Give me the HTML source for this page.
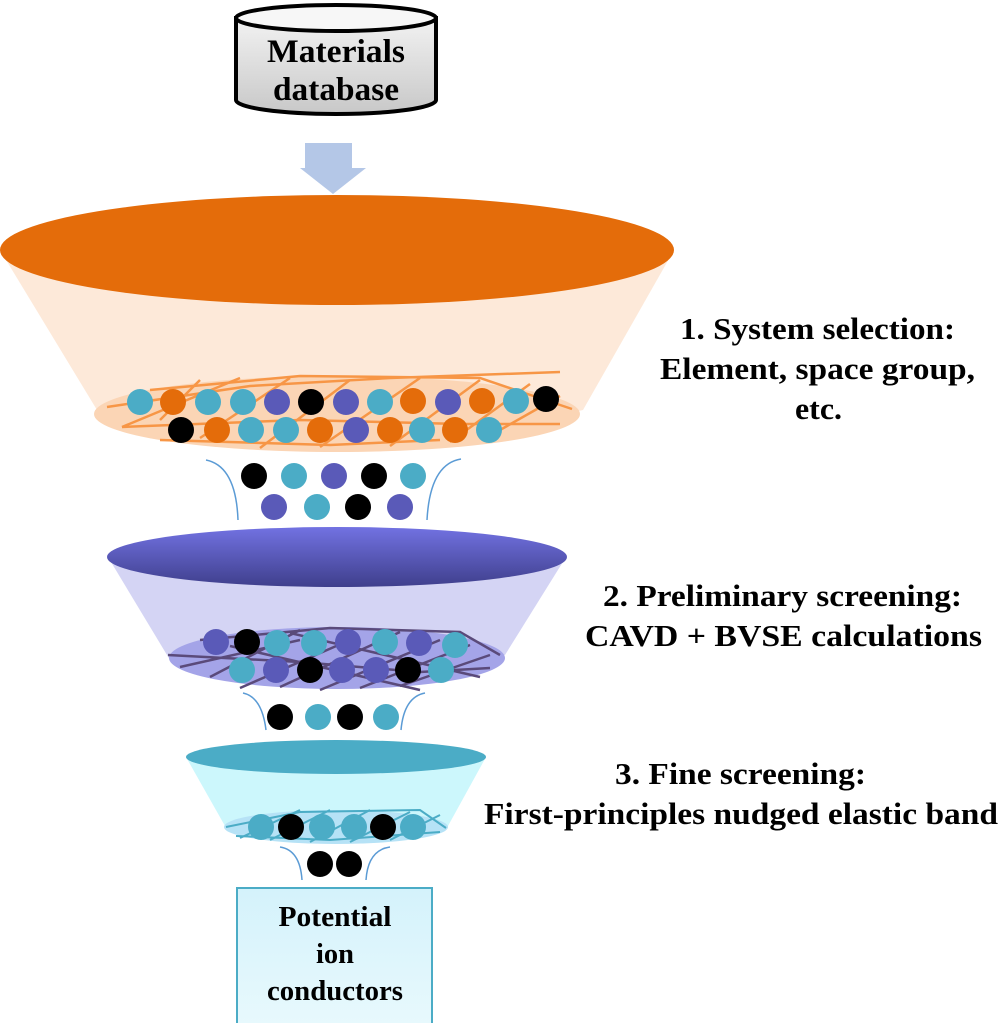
<!DOCTYPE html>
<html><head><meta charset="utf-8"><style>
html,body{margin:0;padding:0;background:#fff;}
svg{display:block;}
svg text{font-family:"Liberation Serif","Times New Roman",serif;font-weight:bold;fill:#000;}
</style></head><body>
<svg width="1000" height="1023" viewBox="0 0 1000 1023" xmlns="http://www.w3.org/2000/svg" font-family="Liberation Serif, serif">
<defs>
<linearGradient id="cyl" x1="0" y1="0" x2="0" y2="1"><stop offset="0" stop-color="#f2f2f2"/><stop offset="1" stop-color="#c8c8c8"/></linearGradient>
<linearGradient id="pt" x1="0" y1="0" x2="0" y2="1"><stop offset="0" stop-color="#7272e2"/><stop offset="1" stop-color="#3f3f8c"/></linearGradient>
<linearGradient id="box" x1="0" y1="0" x2="0" y2="1"><stop offset="0" stop-color="#d4f2fb"/><stop offset="1" stop-color="#e8f9fd"/></linearGradient>
</defs>

<path d="M236,18 L236,100 A100,14 0 0 0 436,100 L436,18 Z" fill="url(#cyl)" stroke="#000" stroke-width="4"/>
<ellipse cx="336" cy="18" rx="100" ry="13" fill="#f7f7f7" stroke="#000" stroke-width="4"/>
<text x="336" y="62" font-size="33" text-anchor="middle" textLength="138" lengthAdjust="spacingAndGlyphs">Materials</text>
<text x="336" y="100" font-size="33" text-anchor="middle" textLength="126" lengthAdjust="spacingAndGlyphs">database</text>

<polygon points="305,143 352,143 352,168 366,168 333,194 300,168 305,168" fill="#b4c7e7"/>

<path d="M0,250 L674,250 L583,410 Q337,470 97,410 Z" fill="#fde9d9"/>
<ellipse cx="337" cy="414" rx="243" ry="38" fill="#fbd5b5"/>
<ellipse cx="337" cy="250" rx="337" ry="55" fill="#e46c0a"/>
<g stroke="#f79646" stroke-width="2.5" fill="none">
<path d="M107,407 L250,386 L390,378 L560,372"/>
<path d="M150,390 L300,376 L480,378 L572,409"/>
<path d="M122,427 L300,420 L460,424 L560,424"/>
<path d="M160,440 L330,445 L440,440"/>
<path d="M122,427 L240,378 M200,438 L290,378 M260,448 L350,380 M320,447 L420,378 M390,446 L480,380 M450,442 L530,384 M500,430 L560,396"/>
<path d="M160,420 L200,380"/>
</g>
<g>
<circle cx="140" cy="402" r="13" fill="#4bacc6"/><circle cx="173" cy="402" r="13" fill="#e46c0a"/><circle cx="208" cy="402" r="13" fill="#4bacc6"/><circle cx="243" cy="402" r="13" fill="#4bacc6"/><circle cx="277" cy="402" r="13" fill="#5a5ab8"/><circle cx="311" cy="402" r="13" fill="#000"/><circle cx="346" cy="402" r="13" fill="#5a5ab8"/><circle cx="380" cy="402" r="13" fill="#4bacc6"/><circle cx="413" cy="401" r="13" fill="#e46c0a"/><circle cx="448" cy="402" r="13" fill="#5a5ab8"/><circle cx="482" cy="401" r="13" fill="#e46c0a"/><circle cx="516" cy="401" r="13" fill="#4bacc6"/><circle cx="546" cy="399" r="13" fill="#000"/>
<circle cx="181" cy="430" r="13" fill="#000"/><circle cx="217" cy="430" r="13" fill="#e46c0a"/><circle cx="251" cy="430" r="13" fill="#4bacc6"/><circle cx="286" cy="430" r="13" fill="#4bacc6"/><circle cx="320" cy="430" r="13" fill="#e46c0a"/><circle cx="356" cy="430" r="13" fill="#5a5ab8"/><circle cx="390" cy="430" r="13" fill="#e46c0a"/><circle cx="422" cy="430" r="13" fill="#4bacc6"/><circle cx="455" cy="430" r="13" fill="#e46c0a"/><circle cx="489" cy="430" r="13" fill="#4bacc6"/>
</g>
<g stroke="#5b9bd5" stroke-width="1.5" fill="none">
<path d="M206,460 Q236,466 238,520"/><path d="M461,459 Q430,464 427,520"/>
<path d="M243,693 Q262,697 266,730"/><path d="M425,693 Q404,697 401,730"/>
<path d="M280,847 Q300,850 302,880"/><path d="M390,847 Q368,850 366,880"/>
</g>
<circle cx="254" cy="476" r="13" fill="#000"/><circle cx="294" cy="476" r="13" fill="#4bacc6"/><circle cx="334" cy="476" r="13" fill="#5a5ab8"/><circle cx="374" cy="476" r="13" fill="#000"/><circle cx="413" cy="476" r="13" fill="#4bacc6"/>
<circle cx="274" cy="507" r="13" fill="#5a5ab8"/><circle cx="317" cy="507" r="13" fill="#4bacc6"/><circle cx="358" cy="507" r="13" fill="#000"/><circle cx="400" cy="507" r="13" fill="#5a5ab8"/>

<path d="M108,557 L566,557 L505,655 Q337,700 170,660 Z" fill="#d4d4f4"/>
<ellipse cx="337" cy="658" rx="168" ry="31" fill="#a4a4e8"/>
<ellipse cx="337" cy="557" rx="230" ry="30" fill="url(#pt)"/>
<g stroke="#5a4a7a" stroke-width="2.5" fill="none">
<path d="M168,655 L300,662 L420,672 L490,668"/>
<path d="M200,640 L330,628 L460,632 L500,655"/>
<path d="M180,667 L300,640 M210,677 L300,630 M240,688 L350,640 M280,687 L400,632 M320,690 L440,640 M360,688 L470,645 M400,686 L490,655"/>
<path d="M230,646 L420,690 M290,633 L480,677"/>
</g>
<circle cx="216" cy="642" r="13" fill="#5a5ab8"/><circle cx="247" cy="642" r="13" fill="#000"/><circle cx="277" cy="643" r="13" fill="#4bacc6"/><circle cx="314" cy="643" r="13" fill="#4bacc6"/><circle cx="348" cy="642" r="13" fill="#5a5ab8"/><circle cx="385" cy="642" r="13" fill="#4bacc6"/><circle cx="419" cy="643" r="13" fill="#5a5ab8"/><circle cx="455" cy="645" r="13" fill="#4bacc6"/>
<circle cx="242" cy="670" r="13" fill="#4bacc6"/><circle cx="276" cy="670" r="13" fill="#5a5ab8"/><circle cx="310" cy="670" r="13" fill="#000"/><circle cx="342" cy="670" r="13" fill="#5a5ab8"/><circle cx="376" cy="670" r="13" fill="#5a5ab8"/><circle cx="408" cy="670" r="13" fill="#000"/><circle cx="441" cy="670" r="13" fill="#4bacc6"/>
<circle cx="280" cy="717" r="13" fill="#000"/><circle cx="318" cy="717" r="13" fill="#4bacc6"/><circle cx="350" cy="717" r="13" fill="#000"/><circle cx="386" cy="717" r="13" fill="#4bacc6"/>

<path d="M186,757 L486,757 L448,826 Q336,850 225,826 Z" fill="#ccf7fc"/>
<ellipse cx="336" cy="827" rx="112" ry="17" fill="#b6e2f6"/>
<ellipse cx="336" cy="757" rx="150" ry="17" fill="#4bacc6"/>
<g stroke="#4bacc6" stroke-width="2" fill="none">
<path d="M226,827 L300,812 L420,810 L446,828"/>
<path d="M236,836 L330,840 L440,832"/>
<path d="M240,838 L300,810 M270,840 L330,810 M310,842 L370,810 M350,842 L410,812 M390,840 L440,815"/>
</g>
<circle cx="261" cy="827" r="13" fill="#4bacc6"/><circle cx="291" cy="827" r="13" fill="#000"/><circle cx="322" cy="827" r="13" fill="#4bacc6"/><circle cx="354" cy="827" r="13" fill="#4bacc6"/><circle cx="383" cy="827" r="13" fill="#000"/><circle cx="413" cy="827" r="13" fill="#4bacc6"/>
<circle cx="320" cy="864" r="13" fill="#000"/><circle cx="349" cy="864" r="13" fill="#000"/>

<rect x="237" y="888" width="195" height="140" fill="url(#box)" stroke="#4bacc6" stroke-width="2"/>
<text x="335" y="926" font-size="28" text-anchor="middle" textLength="113" lengthAdjust="spacingAndGlyphs">Potential</text>
<text x="335" y="963" font-size="28" text-anchor="middle" textLength="38" lengthAdjust="spacingAndGlyphs">ion</text>
<text x="335" y="1000" font-size="28" text-anchor="middle" textLength="136" lengthAdjust="spacingAndGlyphs">conductors</text>

<text x="680" y="339" font-size="31" textLength="275" lengthAdjust="spacingAndGlyphs">1. System selection:</text>
<text x="660" y="379" font-size="31" textLength="315" lengthAdjust="spacingAndGlyphs">Element, space group,</text>
<text x="795" y="419" font-size="31" textLength="47" lengthAdjust="spacingAndGlyphs">etc.</text>
<text x="603" y="606" font-size="31" textLength="359" lengthAdjust="spacingAndGlyphs">2. Preliminary screening:</text>
<text x="585" y="646" font-size="31" textLength="397" lengthAdjust="spacingAndGlyphs">CAVD + BVSE calculations</text>
<text x="615" y="784" font-size="31" textLength="251" lengthAdjust="spacingAndGlyphs">3. Fine screening:</text>
<text x="484" y="824" font-size="31" textLength="514" lengthAdjust="spacingAndGlyphs">First-principles nudged elastic band</text>
</svg>
</body></html>
